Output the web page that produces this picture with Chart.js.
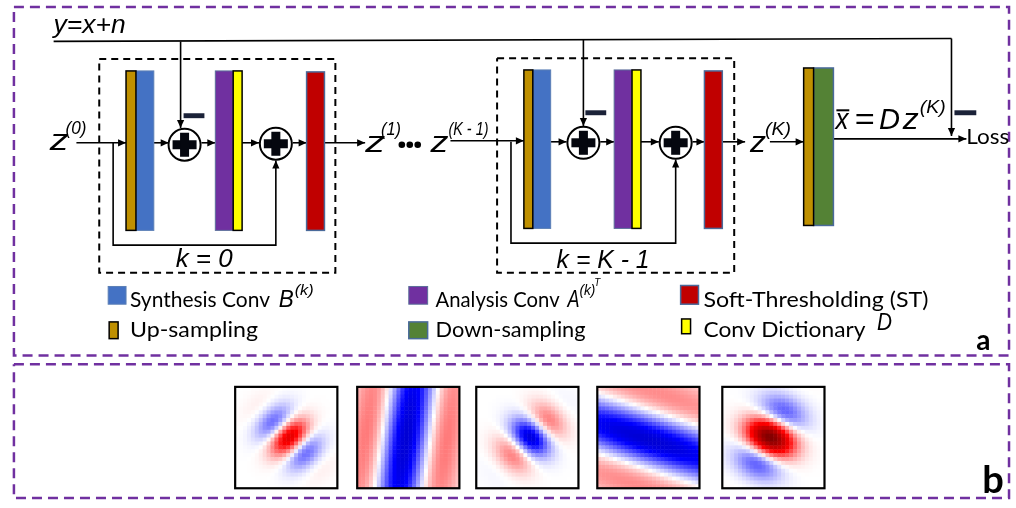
<!DOCTYPE html>
<html>
<head>
<meta charset="utf-8">
<script src="https://cdn.jsdelivr.net/npm/chart.js@4.4.1/dist/chart.umd.min.js"></script>
<style>
  html, body { margin: 0; padding: 0; background: #fff; }
  canvas { display: block; }
</style>
</head>
<body>
<canvas id="diagram" width="1016" height="508"></canvas>
<script>
// === LAYOUT DATA (page units, y grows downward) ===

// unrolled network blocks: [kind, x0, x1, y0, y1]
const barRects = [
    ['synth', 133, 151, 68, 230], ['up', 123, 133, 68, 230],
    ['analysis', 213, 231, 68, 230], ['dict', 231, 240, 68, 230],
    ['st', 305, 323, 69, 230],
    ['synth', 533, 551, 67, 228], ['up', 524, 533, 67, 228],
    ['analysis', 615, 633, 67, 228], ['dict', 633, 642, 67, 228],
    ['st', 706, 724, 68, 228],
    ['down', 816, 836, 65, 225], ['up', 806, 816, 65, 225]
];

// summation nodes (centre x, centre y)
const sumNodes = [[182, 143], [274, 142], [584, 141], [677, 141]];

// minus signs: [x0, x1, y0, y1]
const minusSigns = [[181, 202, 111, 116], [586, 607, 108, 113], [958, 980, 108, 113]];

// wires, each ends with an arrow head except the first one
const wires = [
    [[50, 38], [955, 35]],
    [[178, 38], [178, 126]],
    [[584, 36], [584, 124]],
    [[955, 35], [955, 134]],
    [[73, 141], [123, 141]],
    [[151, 141], [166, 141]],
    [[199, 141], [213, 141]],
    [[240, 141], [257, 141]],
    [[291, 141], [305, 141]],
    [[323, 141], [364, 141]],
    [[110, 141], [110, 245], [274, 245], [274, 159]],
    [[450, 139], [524, 139]],
    [[551, 140], [567, 140]],
    [[601, 140], [615, 140]],
    [[642, 140], [660, 140]],
    [[694, 140], [706, 140]],
    [[511, 140], [511, 243], [677, 243], [677, 158]],
    [[724, 140], [747, 140]],
    [[772, 140], [806, 140]],
    [[836, 137], [970, 137]]
];
const wireArrows = [false, true, true, true, true, true, true, true, true, true,
    true, true, true, true, true, true, true, true, true, true];

// dashed frames: [x0, y0, x1, y1]
const stageFrames = [[96, 56, 334, 273], [497, 55, 736, 273]];
const panelFrames = [[10, 3, 1013, 357], [10, 366, 1013, 502]];

// ellipsis dots between z(1) and z(K-1)
const ellipsisDots = [[401, 143], [409, 143], [417, 143]];

// math labels: [text, x, baseline, size, width]
const mathLabels = [
    ['y=x+n', 50, 29, 26, 72],
    ['z', 46, 148, 30, 19], ['(0)', 62, 132, 19, 21],
    ['z', 364, 150, 30, 20], ['(1)', 380, 133, 19, 20],
    ['z', 430, 150, 30, 18], ['(K - 1)', 448, 133, 19, 40],
    ['z', 752, 150, 30, 16], ['(K)', 767, 133, 19, 26],
    ['x', 838, 127, 29, 13], ['=', 857, 127, 29, 20], ['D', 882, 127, 29, 21],
    ['z', 906, 127, 29, 16], ['(K)', 923, 111, 19, 26],
    ['k = 0', 173, 267, 26, 57], ['k = K - 1', 557, 268, 26, 93],
    ['B', 277, 308, 23, 15], ['(k)', 293, 296, 15, 19],
    ['A', 568, 308, 23, 12], ['(k)', 580, 296, 15, 16], ['T', 595, 287, 11, 6],
    ['D', 880, 331, 23, 15]
];
const xBar = [839, 852, 108];

// legend
const legendSwatches = [
    ['synth', 105, 123, 287, 305], ['up', 106, 115, 323, 340],
    ['analysis', 408, 427, 287, 305], ['down', 408, 427, 323, 340],
    ['st', 682, 700, 286, 305], ['dict', 683, 692, 320, 335]
];
const legendLabels = [
    ['Synthesis Conv', 127, 308, 140], ['Up-sampling', 127, 338, 128],
    ['Analysis Conv', 435, 308, 124], ['Down-sampling', 435, 338, 150],
    ['Soft-Thresholding (ST)', 705, 308, 225], ['Conv Dictionary', 705, 338, 162]
];
const plainLabels = [['Loss', 970, 142, 21, 43]];
const panelTags = [['a', 980, 352, 28], ['b', 986, 497, 38]];

// learned filters (panel b), Gabor-like parameters
const filterBoxes = [233, 356, 476, 598, 724];
const filterTop = 389, filterSize = 103, filterRows = 26;
const filterTheta = [45, 8, -45, 108, -63];
const filterFreq = [1.85, 1.05, 1.6, 0.88, 1.3];
const filterAmp = [0.6, -0.62, -0.6, -0.62, 1.0];
const filterSigmaW = [0.2, 0.33, 0.21, 0.36, 0.22];
const filterSigmaS = [0.15, 0.9, 0.15, 0.9, 0.17];
const filterShiftU = [0.03, -0.02, 0.03, 0.0, -0.03];
const filterShiftV = [0.0, 0.0, 0.0, 0.02, 0.0];

// === STYLES ===
const barStyle = {
    up: { fill: '#BF9000', stroke: '#000000', lw: 1.5 },
    synth: { fill: '#4472C4', stroke: '#5B7FB5', lw: 1 },
    analysis: { fill: '#7030A0', stroke: '#5B6F9A', lw: 1 },
    dict: { fill: '#FFFF00', stroke: '#000000', lw: 1.5 },
    st: { fill: '#C00000', stroke: '#4A6A9A', lw: 1.5 },
    down: { fill: '#548235', stroke: '#4A6A9A', lw: 1.5 }
};
const MATH_FONT = '"Liberation Sans", Arial, sans-serif';
const TEXT_FONT = 'Lato, "Open Sans", sans-serif';

function seismic(v) {
    v = Math.max(-1, Math.min(1, v));
    let r, g, b;
    if (v < -0.5) { const t = (v + 1) / 0.5; r = 0; g = 0; b = 0.3 + 0.7 * t; }
    else if (v < 0) { const t = (v + 0.5) / 0.5; r = t; g = t; b = 1; }
    else if (v < 0.5) { const t = v / 0.5; r = 1; g = 1 - t; b = 1 - t; }
    else { const t = (v - 0.5) / 0.5; r = 1 - 0.5 * t; g = 0; b = 0; }
    return `rgb(${Math.round(r * 255)},${Math.round(g * 255)},${Math.round(b * 255)})`;
}

function boxPath(f) {
    return [{ x: f[0], y: f[1] }, { x: f[2], y: f[1] }, { x: f[2], y: f[3] }, { x: f[0], y: f[3] }, { x: f[0], y: f[1] }];
}

// === DATASETS (lines and points drawn by Chart.js) ===
const datasets = [];
panelFrames.forEach(f => datasets.push({
    data: boxPath(f), showLine: true, borderColor: '#7030A0', borderWidth: 2.5,
    borderDash: [10, 6], pointRadius: 0, fill: false
}));
stageFrames.forEach(f => datasets.push({
    data: boxPath(f), showLine: true, borderColor: '#000', borderWidth: 2,
    borderDash: [7, 5], pointRadius: 0, fill: false
}));
wires.forEach(w => datasets.push({
    data: w.map(p => ({ x: p[0], y: p[1] })), showLine: true, borderColor: '#000',
    borderWidth: 1.6, pointRadius: 0, fill: false
}));
datasets.push({
    data: ellipsisDots.map(p => ({ x: p[0], y: p[1] })), showLine: false,
    pointRadius: 3.3, pointBackgroundColor: '#000', pointBorderWidth: 0
});

function drawText(ctx, s, x, y, font, w) {
    ctx.save();
    ctx.font = font;
    const m = ctx.measureText(s).width;
    ctx.translate(x, y);
    if (w) ctx.scale(w / m, 1);
    ctx.fillText(s, 0, 0);
    ctx.restore();
}

// === DIAGRAM PLUGIN ===
const diagramPlugin = {
    id: 'diagram',
    beforeDraw(chart) {
        const ctx = chart.ctx;
        ctx.save();
        ctx.fillStyle = '#fff';
        ctx.fillRect(0, 0, chart.width, chart.height);
        ctx.restore();
    },
    afterDatasetsDraw(chart) {
        const ctx = chart.ctx;
        const xs = chart.scales.x, ys = chart.scales.y;
        const X = v => xs.getPixelForValue(v);
        const Y = v => ys.getPixelForValue(v);
        ctx.save();

        // arrow heads
        ctx.fillStyle = '#000';
        wires.forEach((w, i) => {
            if (!wireArrows[i]) return;
            const a = w[w.length - 2], b = w[w.length - 1];
            const ang = Math.atan2(Y(b[1]) - Y(a[1]), X(b[0]) - X(a[0]));
            ctx.save();
            ctx.translate(X(b[0]), Y(b[1]));
            ctx.rotate(ang);
            ctx.beginPath();
            ctx.moveTo(0, 0); ctx.lineTo(-8, -3.6); ctx.lineTo(-8, 3.6);
            ctx.closePath(); ctx.fill();
            ctx.restore();
        });

        // bars
        const rect = (kind, x0, x1, y0, y1) => {
            const s = barStyle[kind];
            ctx.fillStyle = s.fill;
            ctx.fillRect(X(x0), Y(y0), X(x1) - X(x0), Y(y1) - Y(y0));
            ctx.lineWidth = s.lw;
            ctx.strokeStyle = s.stroke;
            ctx.strokeRect(X(x0), Y(y0), X(x1) - X(x0), Y(y1) - Y(y0));
        };
        barRects.forEach(r => rect(...r));
        legendSwatches.forEach(r => rect(...r));

        // summation nodes
        sumNodes.forEach(([cx, cy]) => {
            ctx.beginPath();
            ctx.arc(X(cx), Y(cy), 16, 0, Math.PI * 2);
            ctx.fillStyle = '#fff'; ctx.fill();
            ctx.lineWidth = 2; ctx.strokeStyle = '#000'; ctx.stroke();
            ctx.fillStyle = '#05070F';
            ctx.fillRect(X(cx) - 12, Y(cy) - 4.5, 24, 9);
            ctx.fillRect(X(cx) - 4.5, Y(cy) - 12, 9, 24);
        });

        // minus signs
        ctx.fillStyle = '#1B2238';
        minusSigns.forEach(([x0, x1, y0, y1]) => ctx.fillRect(X(x0), Y(y0), X(x1) - X(x0), Y(y1) - Y(y0)));

        // math labels
        ctx.fillStyle = '#000';
        ctx.textBaseline = 'alphabetic';
        mathLabels.forEach(([t, x, y, size, w]) => drawText(ctx, t, X(x), Y(y), `italic ${size}px ${MATH_FONT}`, w));
        ctx.lineWidth = 2; ctx.strokeStyle = '#000';
        ctx.beginPath(); ctx.moveTo(X(xBar[0]), Y(xBar[2])); ctx.lineTo(X(xBar[1]), Y(xBar[2])); ctx.stroke();

        // plain labels
        legendLabels.forEach(([t, x, y, w]) => drawText(ctx, t, X(x), Y(y), `22px ${TEXT_FONT}`, w));
        plainLabels.forEach(([t, x, y, size, w]) => drawText(ctx, t, X(x), Y(y), `${size}px ${TEXT_FONT}`, w));
        panelTags.forEach(([t, x, y, size]) => drawText(ctx, t, X(x), Y(y), `bold ${size}px ${TEXT_FONT}`));

        // filters
        filterBoxes.forEach((fx, k) => {
            const th = filterTheta[k] * Math.PI / 180;
            const c = Math.cos(th), s = Math.sin(th);
            const cell = filterSize / filterRows;
            for (let i = 0; i < filterRows; i++) {
                for (let j = 0; j < filterRows; j++) {
                    const u = (i + 0.5) / filterRows - 0.5 - filterShiftU[k];
                    const v = (j + 0.5) / filterRows - 0.5 - filterShiftV[k];
                    const w = u * c + v * s, q = -u * s + v * c;
                    const val = filterAmp[k] * Math.exp(-w * w / (2 * filterSigmaW[k] ** 2) - q * q / (2 * filterSigmaS[k] ** 2))
                        * Math.cos(2 * Math.PI * filterFreq[k] * w);
                    ctx.fillStyle = seismic(val);
                    const x0 = X(fx + i * cell), y0 = Y(filterTop + j * cell);
                    ctx.fillRect(x0, y0, X(fx + (i + 1) * cell) - x0 + 0.5, Y(filterTop + (j + 1) * cell) - y0 + 0.5);
                }
            }
            ctx.lineWidth = 2.2; ctx.strokeStyle = '#000';
            ctx.strokeRect(X(fx), Y(filterTop), X(fx + filterSize) - X(fx), Y(filterTop + filterSize) - Y(filterTop));
        });

        ctx.restore();
    }
};

new Chart(document.getElementById('diagram'), {
    type: 'scatter',
    data: { datasets: datasets },
    options: {
        responsive: false,
        animation: false,
        devicePixelRatio: 1,
        layout: { padding: 0 },
        plugins: { legend: { display: false }, tooltip: { enabled: false } },
        elements: { line: { tension: 0, borderCapStyle: 'butt' } },
        scales: {
            x: { type: 'linear', min: 0, max: 1016, display: false },
            y: { type: 'linear', min: 0, max: 508, reverse: true, display: false }
        }
    },
    plugins: [diagramPlugin]
});
</script>
</body>
</html>
